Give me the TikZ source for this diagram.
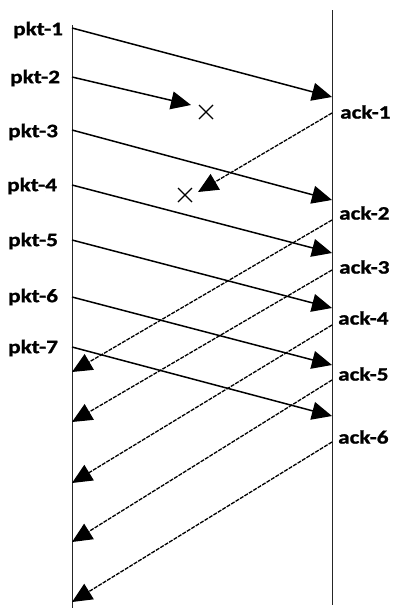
\documentclass[tikz,border=0pt]{standalone}
\usepackage{fontspec}
\setmainfont{Carlito}[FakeStretch=1.22, BoldFeatures={FakeBold=1.2}]
\usetikzlibrary{arrows.meta}

\tikzset{
    pkt/.style={line width=1.5pt, -{Triangle[length=20pt,width=18pt]}},
    ack/.style={line width=1.3pt, dash pattern=on 4pt off 1.2pt, -{Triangle[length=20pt,width=18pt]}},
    lbl/.style={font=\fontsize{19}{22}\selectfont\bfseries, inner sep=0pt},
    lost/.style={line width=1.3pt}
}

\begin{document}
\begin{tikzpicture}[x=1pt, y=-1pt]
    \useasboundingbox (0,0) rectangle (394,608);

    % 发送端和接收端
    \coordinate (S0) at (72,25);
    \coordinate (S1) at (72,608);
    \coordinate (R0) at (332,10);
    \coordinate (R1) at (332,605);
    \draw[line width=1pt, black!85] (S0) -- (S1);
    \draw[line width=1pt, black!85] (R0) -- (R1);

    % 数据包起点
    \coordinate (P1) at (72,28);
    \coordinate (P2) at (72,77);
    \coordinate (P3) at (72,130);
    \coordinate (P4) at (72,185);
    \coordinate (P5) at (72,240);
    \coordinate (P6) at (72,297);
    \coordinate (P7) at (72,347);

    % 数据包标签
    \node[lbl, anchor=west] (p1) at (13,30) {pkt-1};
    \node[lbl, anchor=west] (p2) at (10,78) {pkt-2};
    \node[lbl, anchor=west] (p3) at (8,132) {pkt-3};
    \node[lbl, anchor=west] (p4) at (7,186) {pkt-4};
    \node[lbl, anchor=west] (p5) at (8,241) {pkt-5};
    \node[lbl, anchor=west] (p6) at (8,297) {pkt-6};
    \node[lbl, anchor=west] (p7) at (8,348) {pkt-7};

    % 数据包终点
    \coordinate (Q1) at (332,97);
    \coordinate (Q2) at (191,105);
    \coordinate (Q3) at (332,200);
    \coordinate (Q4) at (332,253);
    \coordinate (Q5) at (332,308);
    \coordinate (Q6) at (332,365);
    \coordinate (Q7) at (332,416);

    % 绘制数据包
    \draw[pkt] (P1) -- (Q1);
    \draw[pkt] (P2) -- (Q2);
    \draw[pkt] (P3) -- (Q3);
    \draw[pkt] (P4) -- (Q4);
    \draw[pkt] (P5) -- (Q5);
    \draw[pkt] (P6) -- (Q6);
    \draw[pkt] (P7) -- (Q7);

    % 确认起点
    \coordinate (A1) at (332,113);
    \coordinate (A2) at (332,220);
    \coordinate (A3) at (332,270);
    \coordinate (A4) at (332,325);
    \coordinate (A5) at (332,380);
    \coordinate (A6) at (332,442);

    % 确认标签
    \node[lbl, anchor=west] (a1) at (340,112) {ack-1};
    \node[lbl, anchor=west] (a2) at (339,213) {ack-2};
    \node[lbl, anchor=west] (a3) at (339,267) {ack-3};
    \node[lbl, anchor=west] (a4) at (338,318) {ack-4};
    \node[lbl, anchor=west] (a5) at (338,374) {ack-5};
    \node[lbl, anchor=west] (a6) at (338,437) {ack-6};

    % 确认终点
    \coordinate (B1) at (198,192);
    \coordinate (B2) at (72,372);
    \coordinate (B3) at (72,422);
    \coordinate (B4) at (72,483);
    \coordinate (B5) at (72,542);
    \coordinate (B6) at (72,602);

    % 绘制确认
    \draw[ack] (A1) -- (B1);
    \draw[ack] (A2) -- (B2);
    \draw[ack] (A3) -- (B3);
    \draw[ack] (A4) -- (B4);
    \draw[ack] (A5) -- (B5);
    \draw[ack] (A6) -- (B6);

    % 丢失标记
    \coordinate (X1) at (206,112);
    \coordinate (X2) at (185,195);
    \draw[lost] (X1) ++(-7,-7) -- ++(14,14) ++(0,-14) -- ++(-14,14);
    \draw[lost] (X2) ++(-7,-7) -- ++(14,14) ++(0,-14) -- ++(-14,14);

\end{tikzpicture}
\end{document}
